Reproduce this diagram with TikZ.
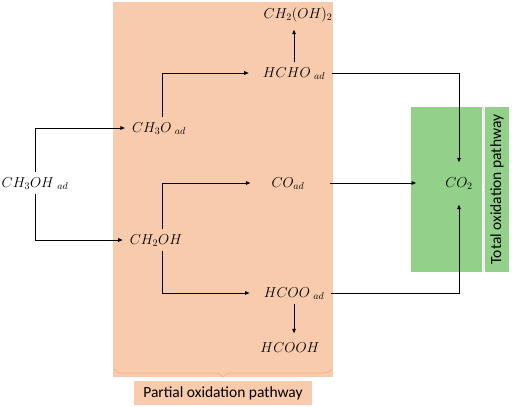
\documentclass[tikz,border=0pt]{standalone}
\usepackage{fontspec}
\setmainfont{Carlito}
\usetikzlibrary{arrows.meta,decorations.pathreplacing}

\definecolor{partialfill}{RGB}{248,203,173}
\definecolor{partialbrace}{RGB}{238,172,132}
\definecolor{totalfill}{RGB}{147,209,138}

\tikzset{
  species/.style={font=\fontsize{14.4}{16}\selectfont, inner xsep=3pt, inner ysep=5pt, text height=10pt, text depth=1pt},
  flow/.style={-{Triangle[length=4.5pt,width=3.6pt]}, line width=0.9pt},
  pathlabel/.style={font=\fontsize{15.5}{17}\selectfont, inner sep=0pt},
}

\begin{document}
\begin{tikzpicture}[x=1pt,y=-1pt]
\useasboundingbox (0,0) rectangle (512,407);

% shaded areas
\fill [partialfill] (113,2) rectangle (333,377);
\fill [totalfill] (411,107) rectangle (482,272);
\draw [partialbrace, line width=0.6pt, decorate, decoration={brace, amplitude=8pt}] (332,369) -- (114,369);
\draw [gray!35, line width=0.6pt, decorate, decoration={brace, amplitude=4pt}] (482,107) -- (482,272);

\node (partiallbl) at (223,393) [pathlabel, fill=partialfill, minimum width=178pt, minimum height=24pt] {Partial oxidation pathway};
\node (totallbl) at (497,189.5) [pathlabel, fill=totalfill, minimum width=165pt, minimum height=24pt, rotate=90] {Total oxidation pathway};

\node (meoh) at (35,183) [species] {$CH_3OH\ _{ad}$};
\node (ch3o) at (159,128) [species] {$CH_3O\ _{ad}$};
\node (ch2oh) at (156,240) [species] {$CH_2OH$};
\node (hcho) at (294,73) [species] {$HCHO\ _{ad}$};
\node (ch2oh2) at (298,14) [species] {$CH_2(OH)_2$};
\node (co) at (288,183) [species] {$CO_{ad}$};
\node (hcoo) at (294,293) [species] {$HCOO\ _{ad}$};
\node (hcooh) at (290,348) [species] {$HCOOH$};
\node (co2) at (459,183) [species] {$CO_2$};

\draw [flow] (meoh.north) |- ([xshift=-4pt]ch3o.west);
\draw [flow] (meoh.south) |- ([xshift=-4pt]ch2oh.west);
\draw [flow] ([xshift=3pt]ch3o.north) |- ([xshift=-11pt]hcho.west);
\draw [flow] ([xshift=6pt]ch2oh.north) |- ([xshift=-18pt]co.west);
\draw [flow] ([xshift=6pt]ch2oh.south) |- ([xshift=-11pt]hcoo.west);
\draw [flow, shorten >=5pt] (hcho.north) -- (hcho.north |- ch2oh2.south);
\draw [flow, shorten >=4pt] (hcoo.south) -- (hcoo.south |- hcooh.north);
\draw [flow, shorten >=10pt] ([xshift=4pt]hcho.east) -| (co2.north);
\draw [flow, shorten >=26pt] ([xshift=22pt]co.east) -- (co2.west);
\draw [flow, shorten >=11pt] ([xshift=4pt]hcoo.east) -| (co2.south);

\end{tikzpicture}
\end{document}
